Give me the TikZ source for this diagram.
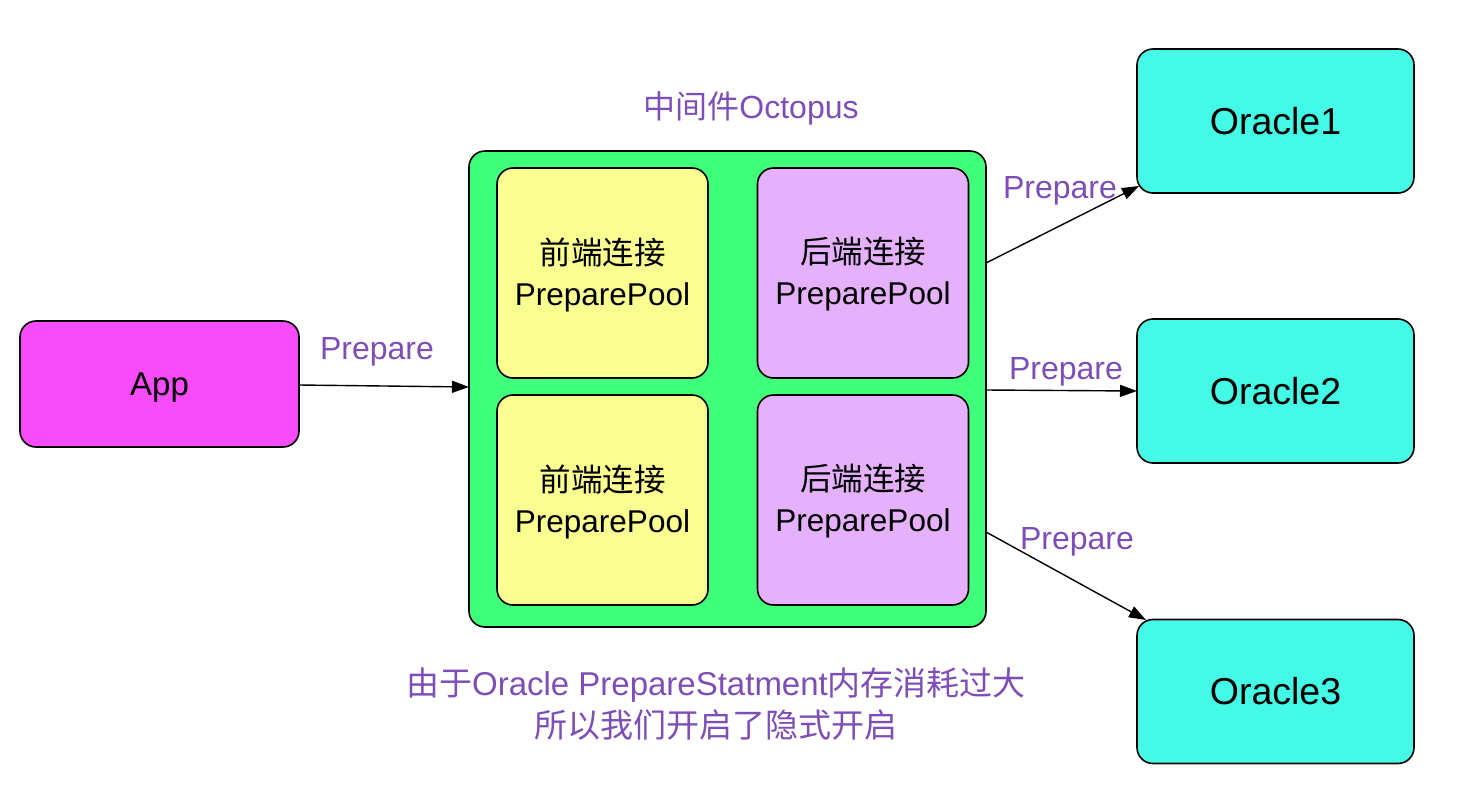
\documentclass[tikz,border=0pt]{standalone}
\usepackage{fontspec}
\setmainfont{Liberation Sans}
\newfontfamily\cjk{Noto Sans CJK SC}
\usetikzlibrary{arrows.meta}
\definecolor{appc}{HTML}{F84BF9}
\definecolor{grn}{HTML}{40FF7A}
\definecolor{ylw}{HTML}{FAFD8F}
\definecolor{lpur}{HTML}{E5B0FC}
\definecolor{cyn}{HTML}{44FAE6}
\definecolor{ptxt}{HTML}{7D4EB8}
\tikzset{
  box/.style={draw=black, line width=1.6pt, rounded corners=16pt, inner sep=0pt, align=center},
  inbox/.style={box, minimum width=211pt, minimum height=210pt},
  orc/.style={box, fill=cyn, minimum width=277pt, minimum height=144pt, font=\fontsize{37.5}{40}\selectfont},
  lbl/.style={text=ptxt, font=\fontsize{32}{36}\selectfont, inner sep=0pt},
  arr/.style={line width=1.4pt, -{Triangle[length=17pt,width=12pt]}},
  intext/.style={font=\fontsize{31.5}{41}\selectfont}
}
\newcommand{\lowtxt}[2]{\raisebox{-#1}[\height][\depth]{\begin{tabular}{@{}c@{}}#2\end{tabular}}}
\begin{document}
\begin{tikzpicture}[x=1pt,y=-1pt]
\useasboundingbox (0,0) rectangle (1462,804);
\node[box, fill=appc, minimum width=279pt, minimum height=126pt, font=\fontsize{33}{36}\selectfont] (app) at (159.5,384) {\lowtxt{4pt}{App}};
\node[box, fill=grn, minimum width=517pt, minimum height=476pt] (oct) at (727.5,389) {};
\node[inbox, fill=ylw, intext] (f1) at (602.5,273) {\lowtxt{4pt}{{\cjk 前端连接}\\PreparePool}};
\node[inbox, fill=ylw, intext] (f2) at (602.5,500) {\lowtxt{4pt}{{\cjk 前端连接}\\PreparePool}};
\node[inbox, fill=lpur, intext] (b1) at (863,273) {\lowtxt{3pt}{{\cjk 后端连接}\\PreparePool}};
\node[inbox, fill=lpur, intext] (b2) at (863,500) {\lowtxt{3pt}{{\cjk 后端连接}\\PreparePool}};
\node[orc] (o1) at (1275.5,121) {Oracle1};
\node[orc] (o2) at (1275.5,391) {Oracle2};
\node[orc] (o3) at (1275.5,691.5) {Oracle3};
\node[lbl] (title) at (751,108) {{\cjk 中间件}Octopus};
\node[lbl, align=center, font=\fontsize{33}{42}\selectfont] (note) at (716,704) {{\cjk 由于}Oracle PrepareStatment{\cjk 内存消耗过大}\\{\cjk 所以我们开启了隐式开启}};
\coordinate (a0) at (299,385);
\coordinate (a1) at (469,387);
\draw[arr] (a0) -- (a1);
\node[lbl] (l0) at (377,352) {Prepare};
\coordinate (s1) at (986,263);
\coordinate (e1) at (1139,186);
\draw[arr] (s1) -- (e1);
\node[lbl] (l1) at (1060,191) {Prepare};
\coordinate (s2) at (986,390);
\coordinate (e2) at (1137,391);
\draw[arr] (s2) -- (e2);
\node[lbl] (l2) at (1066,372) {Prepare};
\coordinate (s3) at (986,532);
\coordinate (e3) at (1146,620);
\draw[arr] (s3) -- (e3);
\node[lbl] (l3) at (1077,542) {Prepare};
\end{tikzpicture}
\end{document}
